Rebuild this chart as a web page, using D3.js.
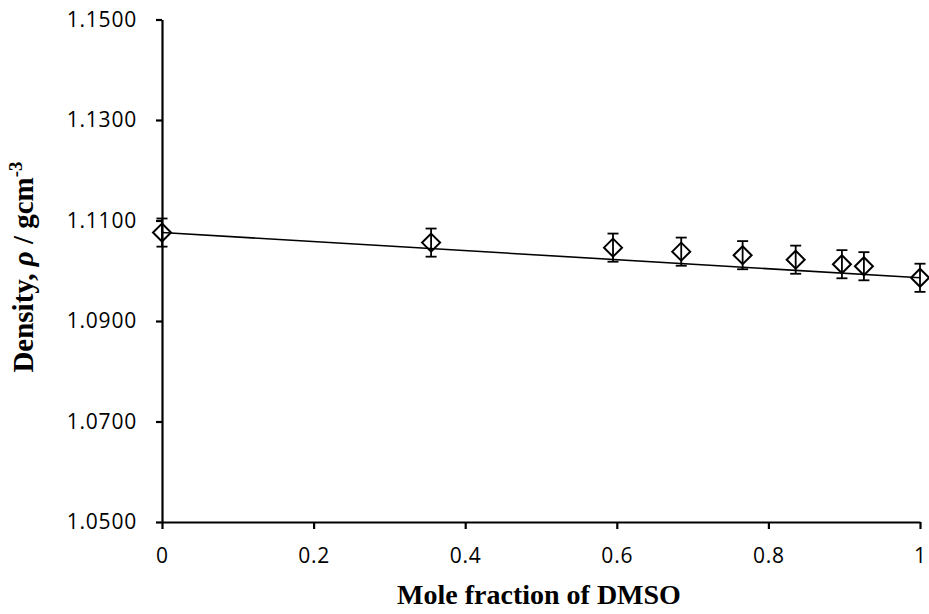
<!DOCTYPE html>
<html>
<head>
<meta charset="utf-8">
<script src="https://cdn.jsdelivr.net/npm/d3@7"></script>
<style>
  body { margin: 0; background: #fff; }
  .tick text { font-family: "Open Sans", sans-serif; font-size: 21px; fill: #000; }
</style>
</head>
<body>
<div class="canvas"></div>
<script>
const moleFraction = [0, 0.355, 0.595, 0.685, 0.766, 0.836, 0.897, 0.926, 1.0]
const density = [1.1076, 1.1056, 1.1046, 1.1038, 1.1031, 1.1022, 1.1013, 1.1009, 1.0986]
const errDensity = [0.0028, 0.0028, 0.0028, 0.0028, 0.0028, 0.0028, 0.0028, 0.0028, 0.0028]
const xTicks = [0, 0.2, 0.4, 0.6, 0.8, 1]
const yTicks = [1.05, 1.07, 1.09, 1.11, 1.13, 1.15]

const width = 929, height = 614
const svg = d3.select('.canvas').append('svg')
    .attr('width', width)
    .attr('height', height)

const x = d3.scaleLinear().domain([0, 1]).range([162, 920])
const y = d3.scaleLinear().domain([1.05, 1.15]).range([522, 19.5])

// straight line joining the pure components (first and last point)
const n = moleFraction.length - 1
svg.append('line')
    .attr('x1', x(moleFraction[0])).attr('y1', y(density[0]))
    .attr('x2', x(moleFraction[n])).attr('y2', y(density[n]))
    .attr('stroke', 'black')
    .attr('stroke-width', 1.6)

// axes
svg.append('g')
    .attr('transform', `translate(${x(0)},0)`)
    .call(d3.axisLeft(y).tickValues(yTicks).tickFormat(d3.format('.4f')).tickSize(6).tickSizeOuter(0).tickPadding(19))
svg.append('g')
    .attr('transform', `translate(0,${y(1.05)})`)
    .call(d3.axisBottom(x).tickValues(xTicks).tickFormat(d3.format('')).tickSize(7).tickSizeOuter(0).tickPadding(19))

svg.selectAll('.domain').attr('stroke', 'black').attr('stroke-width', 2.2)
svg.selectAll('.tick line').attr('stroke', 'black').attr('stroke-width', 2.2)
svg.selectAll('.tick text').style('letter-spacing', '0.8px')

// error bars
const pts = moleFraction.map((v, i) => ({ x: v, y: density[i], e: errDensity[i] }))
const eb = svg.append('g').selectAll('g').data(pts).join('g')
eb.append('line')
    .attr('x1', d => x(d.x)).attr('x2', d => x(d.x))
    .attr('y1', d => y(d.y - d.e)).attr('y2', d => y(d.y + d.e))
    .attr('stroke', 'black').attr('stroke-width', 1.8)
eb.selectAll('.cap').data(d => [[d.x, d.y - d.e], [d.x, d.y + d.e]]).join('line')
    .attr('class', 'cap')
    .attr('x1', d => x(d[0]) - 5.5).attr('x2', d => x(d[0]) + 5.5)
    .attr('y1', d => y(d[1])).attr('y2', d => y(d[1]))
    .attr('stroke', 'black').attr('stroke-width', 1.8)

// diamond markers
svg.append('g').selectAll('path').data(pts).join('path')
    .attr('d', d => {
        const cx = x(d.x), cy = y(d.y), r = 9
        return `M${cx},${cy - r}L${cx + r},${cy}L${cx},${cy + r}L${cx - r},${cy}Z`
    })
    .attr('fill', 'none')
    .attr('stroke', 'black')
    .attr('stroke-width', 2)

// titles
svg.append('text')
    .attr('x', 539).attr('y', 604)
    .attr('text-anchor', 'middle')
    .style('font-family', '"Liberation Serif", "Times New Roman", serif')
    .style('font-weight', 'bold')
    .style('font-size', '28px')
    .text('Mole fraction of DMSO')

const yt = svg.append('text')
    .attr('transform', 'translate(33,267) rotate(-90)')
    .attr('text-anchor', 'middle')
    .style('font-family', '"Liberation Serif", "Times New Roman", serif')
    .style('font-weight', 'bold')
    .style('font-size', '29px')
yt.append('tspan').text('Density, ')
yt.append('tspan').style('font-style', 'italic').text('ρ')
yt.append('tspan').text(' / gcm')
yt.append('tspan').attr('dy', -11).style('font-size', '19px').text('-3')
</script>
</body>
</html>
